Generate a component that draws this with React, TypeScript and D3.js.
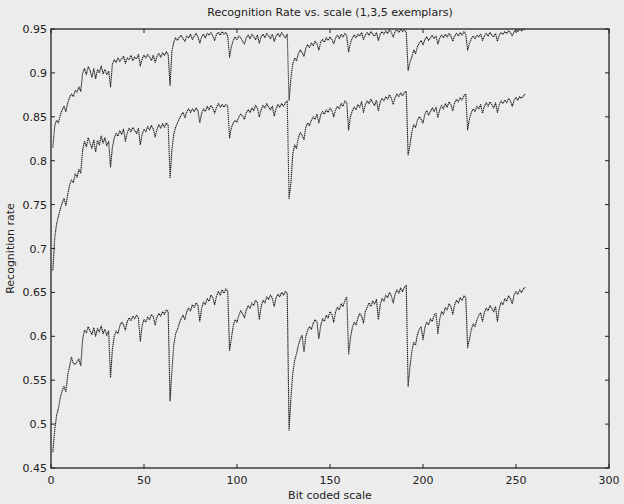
import { useEffect, useRef } from 'react';
import * as d3 from 'd3';

// Recognition rate per bit coded scale (x = 1..255)
const fiveExemplars = [
  0.815, 0.840, 0.846, 0.843, 0.852, 0.858, 0.862, 0.856, 0.866, 0.872, 0.876, 0.873, 0.880, 0.878, 0.884, 0.879,
  0.900, 0.905, 0.898, 0.907, 0.903, 0.895, 0.905, 0.893, 0.904, 0.900, 0.908, 0.899, 0.904, 0.898, 0.902, 0.884,
  0.910, 0.915, 0.912, 0.917, 0.913, 0.916, 0.919, 0.911, 0.917, 0.915, 0.920, 0.914, 0.918, 0.916, 0.921, 0.908,
  0.916, 0.920, 0.917, 0.921, 0.918, 0.914, 0.920, 0.912, 0.919, 0.922, 0.918, 0.923, 0.920, 0.924, 0.921, 0.886,
  0.925, 0.935, 0.940, 0.937, 0.941, 0.943, 0.939, 0.936, 0.942, 0.940, 0.944, 0.938, 0.942, 0.945, 0.941, 0.934,
  0.941, 0.944, 0.940, 0.945, 0.943, 0.946, 0.942, 0.937, 0.944, 0.946, 0.943, 0.947, 0.944, 0.946, 0.942, 0.918,
  0.930, 0.937, 0.941, 0.938, 0.942, 0.940, 0.936, 0.933, 0.940, 0.943, 0.939, 0.944, 0.941, 0.938, 0.943, 0.934,
  0.941, 0.944, 0.940, 0.945, 0.942, 0.939, 0.944, 0.936, 0.942, 0.945, 0.941, 0.946, 0.943, 0.940, 0.944, 0.869,
  0.895, 0.910, 0.917, 0.914, 0.922, 0.926, 0.923, 0.919, 0.928, 0.932, 0.929, 0.934, 0.931, 0.936, 0.933, 0.926,
  0.935, 0.938, 0.935, 0.940, 0.937, 0.941, 0.938, 0.933, 0.940, 0.943, 0.939, 0.944, 0.941, 0.945, 0.942, 0.924,
  0.934, 0.940, 0.943, 0.940, 0.944, 0.942, 0.946, 0.938, 0.943, 0.946, 0.943, 0.947, 0.944, 0.942, 0.946, 0.937,
  0.944, 0.947, 0.944, 0.948, 0.945, 0.949, 0.946, 0.941, 0.947, 0.949, 0.946, 0.950, 0.947, 0.949, 0.946, 0.903,
  0.912, 0.918, 0.926, 0.922, 0.930, 0.934, 0.937, 0.932, 0.938, 0.941, 0.937, 0.940, 0.943, 0.939, 0.942, 0.933,
  0.940, 0.943, 0.940, 0.944, 0.941, 0.945, 0.942, 0.936, 0.942, 0.945, 0.942, 0.946, 0.943, 0.947, 0.944, 0.926,
  0.934, 0.939, 0.942, 0.939, 0.943, 0.941, 0.944, 0.937, 0.942, 0.945, 0.942, 0.946, 0.943, 0.941, 0.945, 0.936,
  0.943, 0.946, 0.944, 0.947, 0.945, 0.948, 0.946, 0.942, 0.947, 0.949, 0.947, 0.950, 0.948, 0.950, 0.949,
];

const threeExemplars = [
  0.675, 0.712, 0.728, 0.737, 0.745, 0.752, 0.757, 0.749, 0.762, 0.772, 0.778, 0.775, 0.785, 0.781, 0.790, 0.786,
  0.812, 0.822, 0.816, 0.826, 0.820, 0.814, 0.824, 0.810, 0.823, 0.818, 0.828, 0.820, 0.826, 0.817, 0.822, 0.793,
  0.815, 0.826, 0.831, 0.828, 0.834, 0.830, 0.836, 0.822, 0.832, 0.837, 0.833, 0.838, 0.834, 0.831, 0.837, 0.818,
  0.830, 0.836, 0.833, 0.839, 0.835, 0.840, 0.836, 0.827, 0.836, 0.841, 0.837, 0.842, 0.838, 0.843, 0.840, 0.780,
  0.812, 0.830, 0.838, 0.843, 0.848, 0.852, 0.855, 0.849, 0.856, 0.859, 0.855, 0.859, 0.856, 0.860, 0.857, 0.843,
  0.854, 0.859, 0.856, 0.862, 0.858, 0.863, 0.860, 0.854, 0.861, 0.865, 0.861, 0.864, 0.861, 0.864, 0.862, 0.826,
  0.838, 0.843, 0.846, 0.844, 0.850, 0.853, 0.851, 0.847, 0.855, 0.858, 0.855, 0.860, 0.857, 0.863, 0.860, 0.850,
  0.858, 0.863, 0.860, 0.865, 0.861, 0.858, 0.862, 0.851, 0.859, 0.864, 0.861, 0.865, 0.862, 0.866, 0.868, 0.757,
  0.775, 0.808, 0.818, 0.814, 0.826, 0.832, 0.829, 0.824, 0.838, 0.843, 0.840, 0.846, 0.850, 0.847, 0.853, 0.843,
  0.852, 0.856, 0.853, 0.858, 0.855, 0.860, 0.857, 0.850, 0.858, 0.862, 0.859, 0.865, 0.862, 0.868, 0.866, 0.835,
  0.850, 0.857, 0.861, 0.858, 0.864, 0.861, 0.867, 0.855, 0.864, 0.868, 0.865, 0.870, 0.866, 0.863, 0.869, 0.857,
  0.867, 0.871, 0.868, 0.873, 0.870, 0.875, 0.871, 0.864, 0.872, 0.876, 0.873, 0.877, 0.874, 0.878, 0.879, 0.806,
  0.818, 0.833, 0.841, 0.838, 0.846, 0.850, 0.847, 0.843, 0.853, 0.857, 0.852, 0.856, 0.860, 0.856, 0.861, 0.849,
  0.858, 0.863, 0.859, 0.865, 0.861, 0.867, 0.864, 0.857, 0.866, 0.870, 0.867, 0.872, 0.869, 0.874, 0.876, 0.835,
  0.848, 0.855, 0.859, 0.856, 0.862, 0.859, 0.864, 0.854, 0.862, 0.866, 0.862, 0.867, 0.864, 0.860, 0.866, 0.855,
  0.864, 0.868, 0.865, 0.869, 0.866, 0.871, 0.868, 0.862, 0.869, 0.872, 0.869, 0.873, 0.871, 0.874, 0.876,
];

const oneExemplar = [
  0.468, 0.493, 0.510, 0.518, 0.530, 0.538, 0.543, 0.537, 0.556, 0.566, 0.576, 0.569, 0.568, 0.571, 0.574, 0.566,
  0.596, 0.607, 0.604, 0.611, 0.606, 0.602, 0.610, 0.600, 0.609, 0.605, 0.612, 0.603, 0.608, 0.601, 0.606, 0.553,
  0.585, 0.600, 0.606, 0.603, 0.612, 0.616, 0.613, 0.607, 0.617, 0.621, 0.618, 0.623, 0.620, 0.624, 0.621, 0.594,
  0.612, 0.619, 0.616, 0.622, 0.619, 0.625, 0.622, 0.613, 0.622, 0.626, 0.623, 0.628, 0.625, 0.630, 0.628, 0.526,
  0.560, 0.590, 0.603, 0.608, 0.615, 0.620, 0.624, 0.619, 0.628, 0.632, 0.629, 0.636, 0.633, 0.638, 0.635, 0.617,
  0.632, 0.639, 0.636, 0.643, 0.640, 0.647, 0.644, 0.636, 0.646, 0.651, 0.647, 0.653, 0.649, 0.654, 0.651, 0.584,
  0.598, 0.612, 0.619, 0.616, 0.624, 0.629, 0.626, 0.621, 0.630, 0.635, 0.632, 0.638, 0.635, 0.641, 0.638, 0.619,
  0.634, 0.641, 0.638, 0.645, 0.642, 0.647, 0.643, 0.634, 0.644, 0.648, 0.645, 0.650, 0.647, 0.651, 0.649, 0.493,
  0.530, 0.558, 0.573, 0.580, 0.590, 0.597, 0.601, 0.582, 0.600, 0.607, 0.611, 0.608, 0.615, 0.619, 0.616, 0.597,
  0.612, 0.620, 0.617, 0.624, 0.621, 0.628, 0.625, 0.616, 0.628, 0.633, 0.630, 0.637, 0.634, 0.641, 0.645, 0.580,
  0.598, 0.610, 0.616, 0.613, 0.621, 0.626, 0.623, 0.615, 0.628, 0.633, 0.638, 0.634, 0.640, 0.637, 0.642, 0.619,
  0.636, 0.643, 0.640, 0.647, 0.644, 0.650, 0.646, 0.638, 0.648, 0.653, 0.649, 0.655, 0.651, 0.656, 0.658, 0.543,
  0.565, 0.583, 0.593, 0.590, 0.602, 0.608, 0.611, 0.596, 0.610, 0.616, 0.613, 0.620, 0.617, 0.624, 0.626, 0.603,
  0.620, 0.628, 0.625, 0.633, 0.630, 0.637, 0.634, 0.625, 0.636, 0.641, 0.638, 0.644, 0.641, 0.646, 0.644, 0.587,
  0.597, 0.608, 0.614, 0.611, 0.619, 0.624, 0.627, 0.617, 0.627, 0.632, 0.629, 0.635, 0.632, 0.628, 0.634, 0.617,
  0.632, 0.639, 0.636, 0.643, 0.640, 0.646, 0.643, 0.637, 0.647, 0.651, 0.648, 0.653, 0.650, 0.654, 0.656,
];

const seriesList = [fiveExemplars, threeExemplars, oneExemplar];
const xTicks = [0, 50, 100, 150, 200, 250, 300];
const yTicks = [0.45, 0.5, 0.55, 0.6, 0.65, 0.7, 0.75, 0.8, 0.85, 0.9, 0.95];

const W = 624;
const H = 504;
const margin = { left: 51, right: 15, top: 29, bottom: 36 };
const INK = '#222222';
const FONT = '"DejaVu Sans", Arial, sans-serif';

export default function App() {
  const svgRef = useRef<SVGSVGElement>(null);

  useEffect(() => {
    document.body.style.margin = '0';
    document.body.style.background = '#ececec';
    if (!svgRef.current) return;

    const svg = d3.select(svgRef.current);
    svg.selectAll('*').remove();

    const x0 = margin.left;
    const x1 = W - margin.right;
    const y0 = H - margin.bottom;
    const y1 = margin.top;

    const x = d3.scaleLinear().domain([0, 300]).range([x0, x1]);
    const y = d3.scaleLinear().domain([0.45, 0.95]).range([y0, y1]);

    svg.append('rect').attr('width', W).attr('height', H).attr('fill', '#ececec');

    // data lines
    const line = d3.line<number>()
      .x((_, i) => x(i + 1))
      .y(d => y(d));

    svg.append('g')
      .selectAll('path')
      .data(seriesList)
      .enter()
      .append('path')
      .attr('d', d => line(d) || '')
      .attr('fill', 'none')
      .attr('stroke', INK)
      .attr('stroke-width', 1.1)
      .attr('stroke-dasharray', '1.4 0.6')
      .attr('stroke-linejoin', 'round');

    // box
    svg.append('rect')
      .attr('x', x0)
      .attr('y', y1)
      .attr('width', x1 - x0)
      .attr('height', y0 - y1)
      .attr('fill', 'none')
      .attr('stroke', INK)
      .attr('stroke-width', 1.3);

    // ticks (inside, mirrored)
    const tk = 4;
    const ticks = svg.append('g').attr('stroke', INK).attr('stroke-width', 1);
    xTicks.forEach(t => {
      ticks.append('line').attr('x1', x(t)).attr('x2', x(t)).attr('y1', y0).attr('y2', y0 - tk);
      ticks.append('line').attr('x1', x(t)).attr('x2', x(t)).attr('y1', y1).attr('y2', y1 + tk);
    });
    yTicks.forEach(t => {
      ticks.append('line').attr('x1', x0).attr('x2', x0 + tk).attr('y1', y(t)).attr('y2', y(t));
      ticks.append('line').attr('x1', x1).attr('x2', x1 - tk).attr('y1', y(t)).attr('y2', y(t));
    });

    const labels = svg.append('g')
      .attr('font-family', FONT)
      .attr('font-size', 11)
      .attr('fill', INK);

    xTicks.forEach(t => {
      labels.append('text')
        .attr('x', x(t))
        .attr('y', y0 + 16)
        .attr('text-anchor', 'middle')
        .text(String(t));
    });
    yTicks.forEach(t => {
      labels.append('text')
        .attr('x', x0 - 4)
        .attr('y', y(t) + 4)
        .attr('text-anchor', 'end')
        .text(String(t));
    });

    labels.append('text')
      .attr('x', (x0 + x1) / 2)
      .attr('y', 16)
      .attr('text-anchor', 'middle')
      .text('Recognition Rate vs. scale (1,3,5 exemplars)');

    labels.append('text')
      .attr('x', (x0 + x1) / 2)
      .attr('y', H - 5)
      .attr('text-anchor', 'middle')
      .text('Bit coded scale');

    labels.append('text')
      .attr('transform', `translate(14,${(y0 + y1) / 2}) rotate(-90)`)
      .attr('text-anchor', 'middle')
      .text('Recognition rate');
  }, []);

  return (
    <div style={{ width: W, height: H }}>
      <svg ref={svgRef} width={W} height={H} style={{ display: 'block' }} />
    </div>
  );
}
